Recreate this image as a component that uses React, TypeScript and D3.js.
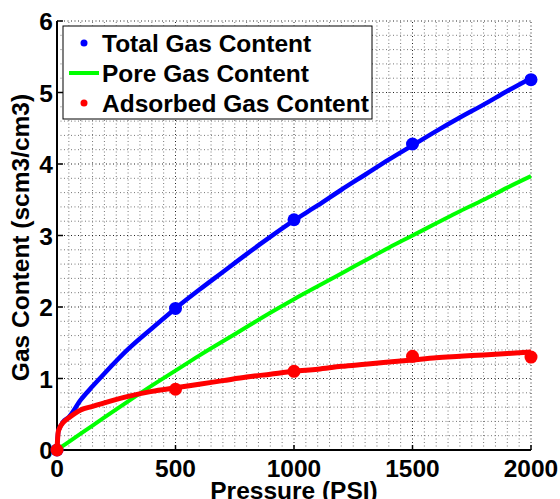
import * as d3 from 'd3';

// pressure samples (PSI) used for the fitted curves
const pressure = [0, 5, 10, 25, 50, 100, 150, 200, 300, 400, 500, 600, 700, 800, 900, 1000, 1100, 1200, 1300, 1400, 1500, 1600, 1700, 1800, 1900, 2000];
const totalCurve = [0, 0.25, 0.3, 0.39, 0.46, 0.7, 0.89, 1.07, 1.41, 1.7, 1.98, 2.24, 2.49, 2.74, 2.98, 3.21, 3.42, 3.64, 3.85, 4.06, 4.26, 4.46, 4.65, 4.83, 5.02, 5.2];
const poreCurve = [0, 0.011, 0.023, 0.057, 0.114, 0.228, 0.34, 0.455, 0.68, 0.9, 1.11, 1.32, 1.52, 1.72, 1.92, 2.11, 2.29, 2.47, 2.65, 2.83, 3.0, 3.17, 3.34, 3.5, 3.67, 3.83];
const adsorbedCurve = [0, 0.25, 0.3, 0.38, 0.45, 0.56, 0.61, 0.66, 0.75, 0.82, 0.87, 0.92, 0.97, 1.02, 1.06, 1.1, 1.13, 1.17, 1.2, 1.23, 1.26, 1.29, 1.31, 1.33, 1.35, 1.37];

// measured points
const measuredP = [0, 500, 1000, 1500, 2000];
const totalPts = [0, 1.98, 3.22, 4.28, 5.18];
const adsorbedPts = [0, 0.85, 1.1, 1.31, 1.3];

const xTicks = [0, 500, 1000, 1500, 2000];
const yTicks = [0, 1, 2, 3, 4, 5, 6];

const legendItems = [
  { label: 'Total Gas Content', color: '#0000ff', kind: 'dot' },
  { label: 'Pore Gas Content', color: '#00ff00', kind: 'line' },
  { label: 'Adsorbed Gas Content', color: '#ff0000', kind: 'dot' },
];

const W = 560;
const H = 499;
const margin = { top: 21, right: 29, bottom: 49, left: 57 };
const font = '"Liberation Sans", Arial, sans-serif';
const fs = 24.5;

export default function App() {
  const x = d3.scaleLinear().domain([0, 2000]).range([margin.left, W - margin.right]);
  const y = d3.scaleLinear().domain([0, 6]).range([H - margin.bottom, margin.top]);

  const line = d3
    .line<number>()
    .x((d, i) => x(pressure[i]))
    .y((d) => y(d))
    .curve(d3.curveMonotoneX);

  const minorX = d3.range(0, 2001, 50);
  const minorY = d3.range(0, 6.001, 0.2);

  return (
    <svg width={W} height={H} style={{ position: 'absolute', left: 0, top: 0, background: '#fff' }}>
      {/* grid */}
      <g>
        {minorX.map((v) => (
          <line key={'gx' + v} x1={x(v)} x2={x(v)} y1={y(0)} y2={y(6)}
            stroke={v % 500 === 0 ? '#222' : '#777'} strokeWidth={1} strokeDasharray="1,2.5" />
        ))}
        {minorY.map((v) => (
          <line key={'gy' + v} x1={x(0)} x2={x(2000)} y1={y(v)} y2={y(v)}
            stroke={Math.abs(v - Math.round(v)) < 1e-6 ? '#222' : '#777'} strokeWidth={1} strokeDasharray="1,2.5" />
        ))}
      </g>

      {/* axes */}
      <line x1={x(0)} x2={x(2000)} y1={y(0)} y2={y(0)} stroke="#000" strokeWidth={2} />
      <line x1={x(0)} x2={x(0)} y1={y(0)} y2={y(6)} stroke="#000" strokeWidth={2} />
      {xTicks.map((t) => (
        <g key={'xt' + t}>
          <line x1={x(t)} x2={x(t)} y1={y(0)} y2={y(0) - 5} stroke="#000" strokeWidth={1.5} />
          <text x={x(t)} y={y(0) + 27} textAnchor="middle" fontFamily={font} fontWeight="bold" fontSize={fs}>{t}</text>
        </g>
      ))}
      {yTicks.map((t) => (
        <g key={'yt' + t}>
          <line x1={x(0)} x2={x(0) + 6} y1={y(t)} y2={y(t)} stroke="#000" strokeWidth={1.5} />
          <text x={x(0) - 4} y={y(t) + 9} textAnchor="end" fontFamily={font} fontWeight="bold" fontSize={fs}>{t}</text>
        </g>
      ))}
      <text x={(x(0) + x(2000)) / 2} y={H} textAnchor="middle" fontFamily={font} fontWeight="bold" fontSize={fs}>Pressure (PSI)</text>
      <text transform={`translate(29, ${(y(0) + y(6)) / 2 + 2}) rotate(-90)`} textAnchor="middle" fontFamily={font} fontWeight="bold" fontSize={fs}>Gas Content (scm3/cm3)</text>

      {/* curves */}
      <path d={line(totalCurve) ?? ''} fill="none" stroke="#0000ff" strokeWidth={4.5} />
      {measuredP.map((p, i) => (
        <circle key={'tp' + p} cx={x(p)} cy={y(totalPts[i])} r={6.5} fill="#0000ff" />
      ))}
      <path d={line(poreCurve) ?? ''} fill="none" stroke="#00ff00" strokeWidth={4} />
      <path d={line(adsorbedCurve) ?? ''} fill="none" stroke="#ff0000" strokeWidth={5} />
      {measuredP.map((p, i) => (
        <circle key={'ap' + p} cx={x(p)} cy={y(adsorbedPts[i])} r={6.5} fill="#ff0000" />
      ))}

      {/* legend */}
      <rect x={63} y={26} width={309} height={93} fill="#fff" stroke="#000" strokeWidth={1} />
      {legendItems.map((d, i) => {
        const cy = 43 + i * 30;
        return (
          <g key={d.label}>
            {d.kind === 'dot' ? (
              <circle cx={84} cy={cy} r={3.5} fill={d.color} />
            ) : (
              <line x1={69} x2={99} y1={cy} y2={cy} stroke={d.color} strokeWidth={4} />
            )}
            <text x={102} y={cy + 9} fontFamily={font} fontWeight="bold" fontSize={fs}>{d.label}</text>
          </g>
        );
      })}
    </svg>
  );
}
